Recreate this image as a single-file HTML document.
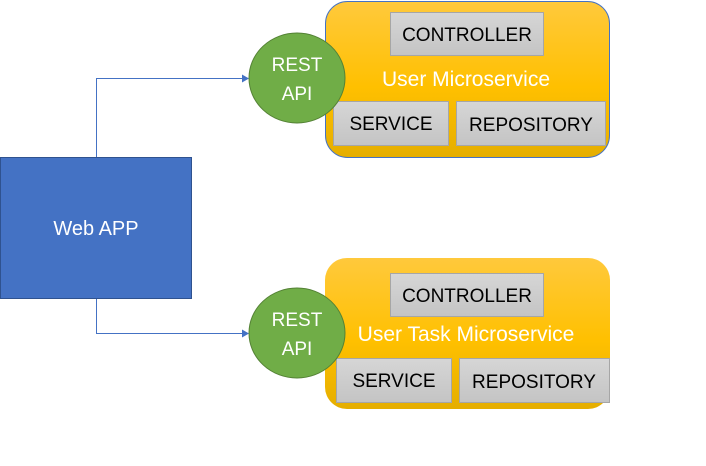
<!DOCTYPE html>
<html><head><meta charset="utf-8"><style>
html,body{margin:0;padding:0;background:#fff;}
svg{display:block;font-family:"Liberation Sans",sans-serif;}
</style></head><body>
<svg width="706" height="466" viewBox="0 0 706 466" xmlns="http://www.w3.org/2000/svg">
<defs>
<linearGradient id="y" x1="0" y1="0" x2="0" y2="1">
<stop offset="0" stop-color="#FFC93C"/><stop offset="0.55" stop-color="#FFC000"/><stop offset="1" stop-color="#E5AE00"/>
</linearGradient>
<linearGradient id="g" x1="0" y1="0" x2="0" y2="1">
<stop offset="0" stop-color="#D6D6D6"/><stop offset="1" stop-color="#C4C4C4"/>
</linearGradient>
</defs>
<polyline points="96.5,157 96.5,78.5 242,78.5" fill="none" stroke="#4472C4" stroke-width="1"/>
<polygon points="242,74.5 249,78.5 242,82.5" fill="#4472C4"/>
<polyline points="96.5,299 96.5,333.5 242,333.5" fill="none" stroke="#4472C4" stroke-width="1"/>
<polygon points="242,329.5 249,333.5 242,337.5" fill="#4472C4"/>
<rect x="0.5" y="157.5" width="191" height="141" fill="#4472C4" stroke="#2F528F"/>
<text x="96" y="235" fill="#fff" font-size="20" text-anchor="middle">Web APP</text>
<rect x="325.5" y="1.5" width="284" height="156" rx="22" fill="url(#y)" stroke="#4472C4" stroke-width="1"/>
<rect x="390.5" y="12.5" width="153" height="43" fill="url(#g)" stroke="#A6A6A6"/>
<text x="467" y="41" font-size="19" text-anchor="middle" fill="#000">CONTROLLER</text>
<text x="466" y="86" font-size="21" text-anchor="middle" fill="#fff">User Microservice</text>
<rect x="333.5" y="101.5" width="115" height="44" fill="url(#g)" stroke="#A6A6A6"/>
<text x="391" y="130" font-size="19" text-anchor="middle" fill="#000">SERVICE</text>
<rect x="456.5" y="101.5" width="149" height="44" fill="url(#g)" stroke="#A6A6A6"/>
<text x="531" y="131" font-size="19" text-anchor="middle" fill="#000">REPOSITORY</text>
<ellipse cx="297" cy="78" rx="48" ry="45" fill="#70AD47" stroke="#548235" stroke-width="1"/>
<text x="297" y="71" font-size="19" text-anchor="middle" fill="#fff">REST</text>
<text x="297" y="100" font-size="19" text-anchor="middle" fill="#fff">API</text>
<rect x="325" y="258" width="285" height="151" rx="22" fill="url(#y)"/>
<rect x="390.5" y="273.5" width="153" height="43" fill="url(#g)" stroke="#A6A6A6"/>
<text x="467" y="302" font-size="19" text-anchor="middle" fill="#000">CONTROLLER</text>
<text x="466" y="341" font-size="21" text-anchor="middle" fill="#fff">User Task Microservice</text>
<rect x="336.5" y="358.5" width="115" height="44" fill="url(#g)" stroke="#A6A6A6"/>
<text x="394" y="387" font-size="19" text-anchor="middle" fill="#000">SERVICE</text>
<rect x="459.5" y="358.5" width="150" height="44" fill="url(#g)" stroke="#A6A6A6"/>
<text x="534" y="388" font-size="19" text-anchor="middle" fill="#000">REPOSITORY</text>
<ellipse cx="297" cy="333" rx="48" ry="45" fill="#70AD47" stroke="#548235" stroke-width="1"/>
<text x="297" y="326" font-size="19" text-anchor="middle" fill="#fff">REST</text>
<text x="297" y="355" font-size="19" text-anchor="middle" fill="#fff">API</text>
</svg>
</body></html>
